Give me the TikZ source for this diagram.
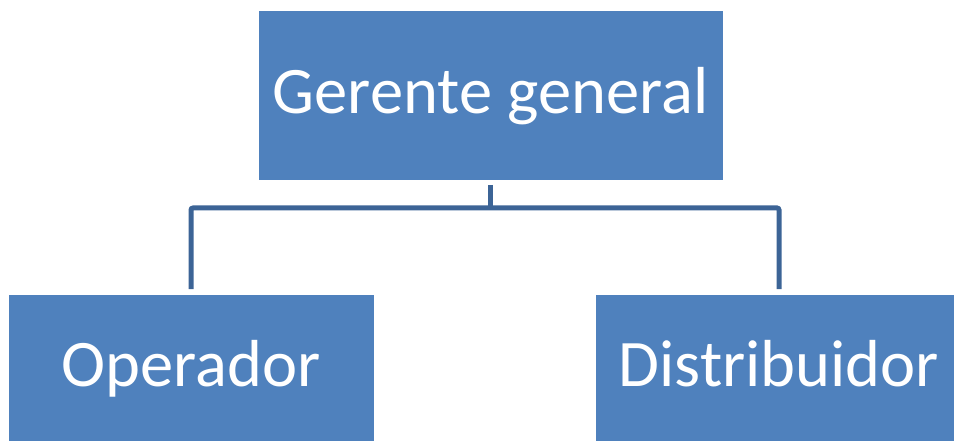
\documentclass[tikz,border=0pt]{standalone}
\usepackage{fontspec}
\setmainfont{Carlito}
\definecolor{cajaazul}{HTML}{4F81BD}
\definecolor{lineaazul}{HTML}{3C6496}
\begin{document}
\begin{tikzpicture}[x=1pt,y=1pt]
\tikzstyle{caja} = [rectangle,fill=cajaazul,draw=white,line width=0.8pt,text=white,
  font=\fontsize{66.5}{78}\selectfont,text height=42pt,text depth=5pt,outer sep=5pt]
\tikzstyle{conector} = [draw=lineaazul,line width=5pt,rounded corners=2pt]

\clip (0,0) rectangle (954,-441);
\useasboundingbox (0,0) rectangle (954,-441);

\node[caja,minimum width=465pt,minimum height=170pt] (gerente) at (490.5,-95) {Gerente general};
\node[caja,minimum width=366pt,minimum height=147pt] (operador) at (191,-367.5) {Operador};
\node[caja,minimum width=368pt,minimum height=147pt] (distribuidor) at (779,-367.5) {Distribuidor};

\draw[conector] (gerente.south) -- ++(0,-23) coordinate (union);
\draw[conector] (operador.north) |- (union) -| (distribuidor.north);
\end{tikzpicture}
\end{document}
